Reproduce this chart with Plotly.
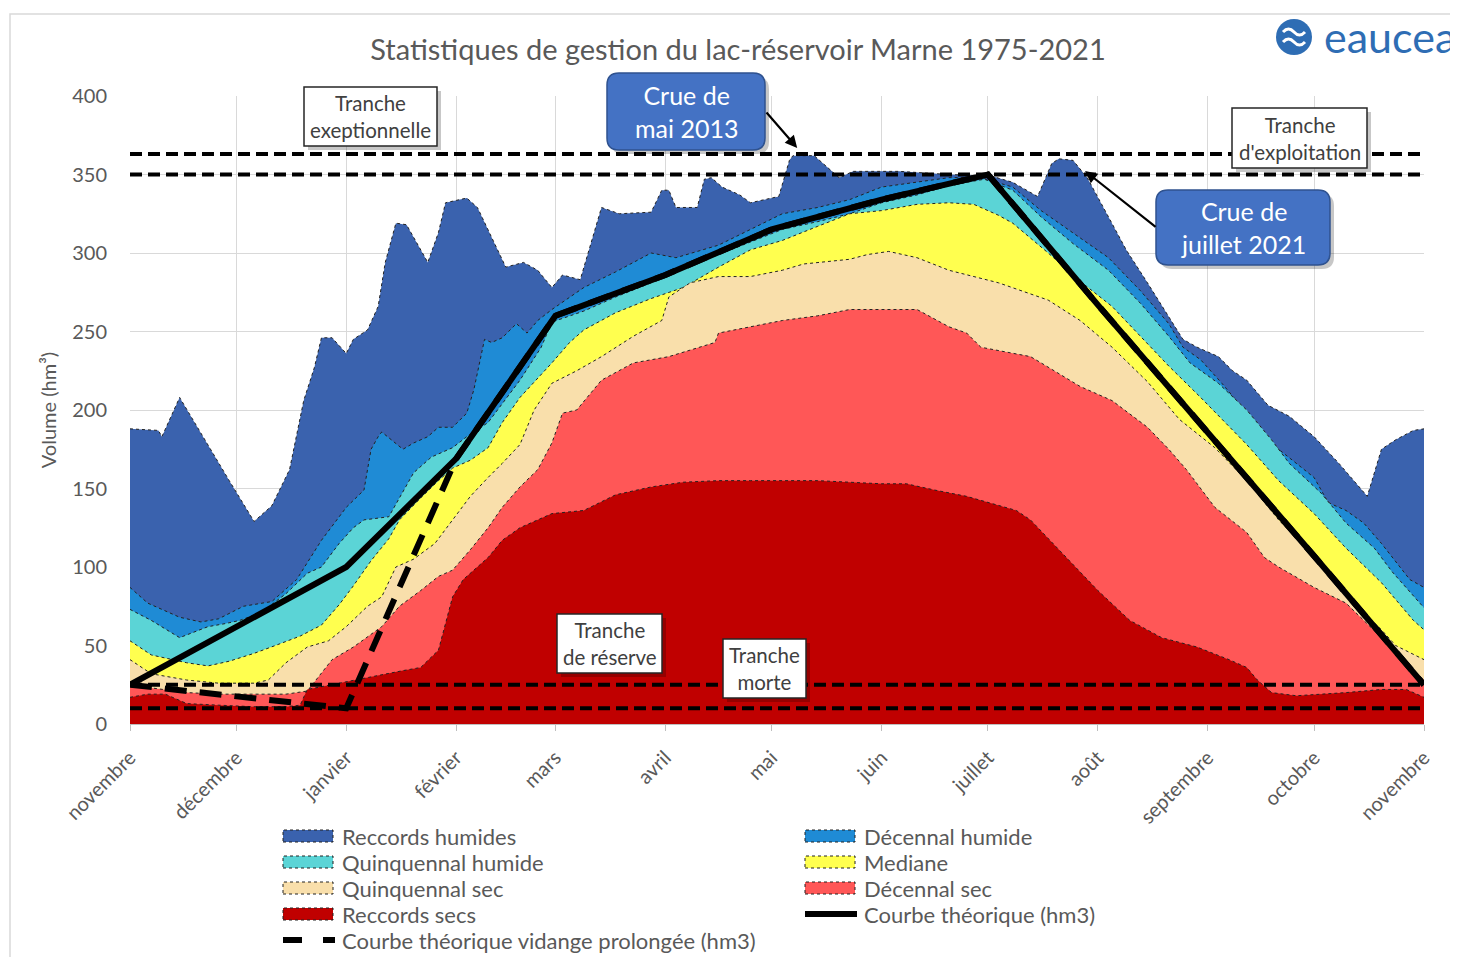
import plotly.graph_objects as go

# jours depuis le 1er novembre / volume (hm3)
rh_days = [0, 8, 9, 14, 28, 35, 40, 45, 49, 52, 54, 57, 61, 63, 67, 70, 72, 75, 78, 84, 87, 89, 95, 98,
           106, 111, 115, 119, 122, 127, 133, 138, 147, 150, 152, 154, 160, 162, 164, 167, 172, 175,
           183, 186, 187, 193, 198, 200, 204, 217, 231, 243, 249, 256, 260, 262, 266, 270, 276, 281,
           287, 293, 297, 301, 307, 311, 315, 321, 327, 334, 341, 349, 353, 357, 362, 365]
rh_vals = [188, 187, 183, 208, 155, 129, 139, 162, 206, 227, 246, 246, 236, 245, 251, 266, 294, 319,
           318, 294, 313, 332, 335, 329, 291, 294, 289, 278, 286, 283, 329, 325, 326, 340, 340, 329,
           329, 347, 348, 342, 337, 332, 336, 359, 362, 362, 352, 348, 352, 352, 350, 349, 345, 336,
           357, 360, 359, 348, 323, 302, 281, 259, 245, 240, 234, 225, 219, 203, 196, 183, 166, 145,
           175, 181, 187, 188]

dh_days = [0, 5, 14, 20, 25, 32, 40, 47, 54, 61, 66, 68, 70, 71, 77, 80, 84, 87, 91, 95, 97, 100, 102,
           105, 109, 112, 115, 119, 128, 137, 147, 154, 166, 175, 184, 194, 203, 212, 222, 231, 240,
           249, 257, 266, 276, 285, 293, 297, 302, 308, 318, 324, 334, 338, 343, 348, 353, 361, 365]
dh_vals = [87, 77, 68, 65, 67, 75, 78, 92, 117, 138, 149, 175, 183, 186, 175, 179, 183, 189, 189, 198,
           213, 245, 243, 246, 255, 249, 257, 264, 278, 288, 300, 297, 305, 315, 325, 329, 334, 342,
           345, 348, 348, 342, 327, 313, 297, 276, 255, 240, 232, 217, 190, 175, 157, 141, 136, 128,
           115, 92, 87]

qh_days = [0, 6, 14, 22, 27, 31, 37, 44, 50, 54, 59, 63, 66, 73, 80, 85, 91, 95, 101, 105, 110, 116,
           119, 128, 137, 147, 156, 166, 175, 184, 194, 203, 212, 222, 231, 241, 249, 257, 266, 276,
           285, 293, 299, 307, 315, 322, 327, 336, 343, 351, 356, 361, 365]
qh_vals = [73, 66, 55, 62, 64, 66, 71, 83, 96, 100, 115, 125, 130, 132, 160, 170, 176, 183, 192, 204,
           219, 240, 256, 263, 272, 281, 290, 299, 307, 315, 320, 325, 332, 337, 343, 347, 340, 323,
           306, 289, 268, 247, 230, 217, 200, 181, 166, 147, 128, 112, 97, 84, 74]

med_days = [0, 6, 16, 22, 28, 35, 41, 48, 54, 59, 63, 68, 73, 76, 82, 87, 91, 96, 101, 105, 110, 119,
            124, 128, 137, 147, 156, 166, 175, 184, 194, 203, 212, 222, 231, 238, 245, 249, 259, 268,
            277, 285, 293, 302, 315, 324, 334, 343, 353, 362, 365]
med_vals = [53, 44, 39, 37, 40, 45, 50, 56, 63, 76, 88, 104, 118, 130, 144, 155, 163, 168, 176, 192,
            208, 230, 243, 251, 262, 271, 278, 291, 302, 308, 317, 325, 327, 331, 332, 331, 324, 319,
            300, 282, 266, 247, 228, 208, 178, 155, 134, 112, 90, 66, 60]

qs_days = [0, 6, 16, 25, 35, 39, 44, 50, 56, 61, 67, 71, 75, 80, 86, 91, 96, 101, 105, 110, 114, 119,
           126, 133, 142, 150, 152, 158, 166, 175, 184, 190, 203, 208, 214, 222, 231, 245, 249, 259,
           268, 277, 287, 296, 306, 315, 324, 334, 343, 353, 357, 365]
qs_vals = [41, 32, 28, 26, 26, 28, 39, 49, 53, 62, 75, 81, 100, 105, 115, 130, 145, 157, 166, 178, 200,
           217, 225, 234, 247, 257, 272, 281, 285, 285, 289, 293, 296, 299, 301, 297, 289, 281, 278,
           270, 257, 240, 218, 194, 176, 155, 130, 107, 82, 60, 50, 41]

ds_days = [0, 6, 16, 25, 35, 44, 50, 54, 57, 63, 71, 76, 82, 87, 91, 96, 101, 105, 110, 115, 119, 122,
           126, 133, 142, 152, 161, 165, 166, 175, 184, 194, 203, 212, 222, 231, 236, 240, 245, 254,
           257, 268, 277, 287, 293, 298, 306, 315, 320, 324, 334, 343, 353, 360, 365]
ds_vals = [24, 23, 20, 19, 19, 19, 21, 32, 41, 49, 62, 75, 85, 94, 98, 111, 125, 138, 151, 162, 179,
           198, 200, 219, 230, 234, 240, 243, 249, 253, 257, 260, 264, 264, 264, 253, 249, 240, 238,
           234, 230, 215, 206, 189, 175, 162, 138, 122, 106, 100, 87, 77, 55, 39, 28]

rs_days = [0, 5, 10, 16, 25, 35, 44, 48, 50, 63, 77, 82, 87, 89, 91, 94, 101, 105, 110, 119, 128, 137,
           147, 156, 166, 175, 184, 194, 203, 212, 219, 227, 236, 245, 250, 254, 263, 273, 282, 291,
           301, 310, 315, 318, 322, 329, 343, 353, 360, 365]
rs_vals = [17, 19, 19, 13, 12, 11, 11, 12, 22, 28, 34, 36, 47, 64, 81, 92, 106, 117, 125, 134, 136, 146,
           151, 154, 155, 155, 155, 155, 154, 153, 153, 149, 145, 139, 136, 130, 109, 85, 66, 55, 49,
           41, 36, 28, 20, 18, 20, 22, 22, 17]

theo_days = [0, 30, 61, 92, 120, 151, 181, 212, 242, 273, 304, 334, 365]
theo_vals = [25, 62, 100, 169, 260, 286, 315, 334, 350, 267, 186, 107, 25]

prol_days = [0, 61, 92, 120, 151, 181, 212, 242, 273, 304, 334, 365]
prol_vals = [25, 10, 169, 260, 286, 315, 334, 350, 267, 186, 107, 25]

tranche_levels = [363, 350, 25, 10]

month_days = [0, 30, 61, 92, 120, 151, 181, 212, 242, 273, 304, 334, 365]
month_labels = ['novembre', 'décembre', 'janvier', 'février', 'mars', 'avril', 'mai', 'juin',
                'juillet', 'août', 'septembre', 'octobre', 'novembre']

FONT = 'Lato'
GREY = '#595959'

areas = [
    ('Reccords humides', rh_days, rh_vals, '#3A62AE'),
    ('Décennal humide', dh_days, dh_vals, '#1F8BD5'),
    ('Quinquennal humide', qh_days, qh_vals, '#5BD4D6'),
    ('Mediane', med_days, med_vals, '#FFFF4F'),
    ('Quinquennal sec', qs_days, qs_vals, '#F9DFAB'),
    ('Décennal sec', ds_days, ds_vals, '#FF5757'),
    ('Reccords secs', rs_days, rs_vals, '#C00000'),
]

# page pixels -> paper coords (plot area 130..1424 x 96..724 on the page)
def PX(px):
    return (px - 130) / 1294

def PY(py):
    return (724 - py) / 628

fig = go.Figure()
for name, d, v, col in areas:
    fig.add_trace(go.Scatter(
        x=d, y=v, name=name, mode='lines', fill='tozeroy', fillcolor=col,
        line=dict(color='#222222', width=1, dash='dot'), showlegend=False, hoverinfo='skip'))

fig.add_trace(go.Scatter(
    x=prol_days, y=prol_vals, name='Courbe théorique vidange prolongée (hm3)', mode='lines',
    line=dict(color='black', width=6, dash='22px,13px'), showlegend=False))
fig.add_trace(go.Scatter(
    x=theo_days, y=theo_vals, name='Courbe théorique (hm3)', mode='lines',
    line=dict(color='black', width=6), showlegend=False))

for lvl in tranche_levels:
    fig.add_shape(type='line', xref='x', yref='y', x0=0, x1=365, y0=lvl, y1=lvl,
                  line=dict(color='black', width=4, dash='12px,6px'), layer='above')


def rounded(x0, y0, x1, y1, r):
    return (f'M {PX(x0 + r)},{PY(y0)} L {PX(x1 - r)},{PY(y0)} Q {PX(x1)},{PY(y0)} {PX(x1)},{PY(y0 + r)} '
            f'L {PX(x1)},{PY(y1 - r)} Q {PX(x1)},{PY(y1)} {PX(x1 - r)},{PY(y1)} '
            f'L {PX(x0 + r)},{PY(y1)} Q {PX(x0)},{PY(y1)} {PX(x0)},{PY(y1 - r)} '
            f'L {PX(x0)},{PY(y0 + r)} Q {PX(x0)},{PY(y0)} {PX(x0 + r)},{PY(y0)} Z')


def box(text, x0, y0, x1, y1, blue=False):
    r = 12 if blue else 0
    fig.add_shape(type='path', xref='paper', yref='paper', path=rounded(x0 + 4, y0 + 4, x1 + 4, y1 + 4, r),
                  fillcolor='rgba(0,0,0,0.22)', line=dict(width=0), layer='above')
    fig.add_shape(type='path', xref='paper', yref='paper', path=rounded(x0, y0, x1, y1, r),
                  fillcolor='#4472C4' if blue else 'white',
                  line=dict(color='#2F528F' if blue else '#262626', width=1.5), layer='above')
    fig.add_annotation(x=PX((x0 + x1) / 2), y=PY((y0 + y1) / 2), xref='paper', yref='paper',
                       text=text, showarrow=False, xanchor='center', yanchor='middle',
                       font=dict(family=FONT, size=25 if blue else 20.5,
                                 color='white' if blue else '#404040'))


box('Tranche<br>exeptionnelle', 304, 87, 437, 146)
box("Tranche<br>d'exploitation", 1232, 108, 1367, 168)
box('Tranche<br>de réserve', 557, 614, 662, 673)
box('Tranche<br>morte', 723, 639, 806, 698)
box('Crue de<br>mai 2013', 607, 73, 765, 150, blue=True)
box('Crue de<br>juillet 2021', 1156, 190, 1330, 265, blue=True)

for tx, ty, ax, ay in [(188.2, 366.9, -32, -37), (269.4, 352.2, 72, 57)]:
    fig.add_annotation(x=tx, y=ty, xref='x', yref='y', text='', showarrow=True, ax=ax, ay=ay,
                       arrowhead=2, arrowsize=1.1, arrowwidth=2.2, arrowcolor='black', standoff=0)

# légende dessinée à la main (deux colonnes)
legend_items = [(a[0], a[3], 'fill') for a in areas]
legend_items += [('Courbe théorique (hm3)', 'black', 'line'),
                 ('Courbe théorique vidange prolongée (hm3)', 'black', 'dash')]
for k, (name, col, kind) in enumerate(legend_items):
    sx = 283 if k % 2 == 0 else 805
    cy = 836 + 26 * (k // 2)
    if kind == 'fill':
        fig.add_shape(type='rect', xref='paper', yref='paper', x0=PX(sx), x1=PX(sx + 50),
                      y0=PY(cy + 6), y1=PY(cy - 6), fillcolor=col,
                      line=dict(color='#222222', width=1, dash='dot'))
    elif kind == 'line':
        fig.add_shape(type='line', xref='paper', yref='paper', x0=PX(sx), x1=PX(sx + 52),
                      y0=PY(cy), y1=PY(cy), line=dict(color='black', width=6))
    else:
        for a, b in [(sx, sx + 19), (sx + 40, sx + 52)]:
            fig.add_shape(type='line', xref='paper', yref='paper', x0=PX(a), x1=PX(b),
                          y0=PY(cy), y1=PY(cy), line=dict(color='black', width=6))
    fig.add_annotation(x=PX(sx + 57), y=PY(cy), xref='paper', yref='paper', text=name,
                       showarrow=False, xanchor='left', yanchor='middle',
                       font=dict(family=FONT, size=22, color=GREY))

# cadre du graphique
fig.add_shape(type='rect', xref='paper', yref='paper', x0=PX(10), x1=PX(1480), y0=PY(990), y1=PY(14),
              line=dict(color='#D9D9D9', width=1.5), layer='below')

# logo
fig.add_shape(type='circle', xref='paper', yref='paper', x0=PX(1276), x1=PX(1312), y0=PY(55), y1=PY(19),
              fillcolor='#2E6DB4', line=dict(width=0))
for wy in (32, 42):
    fig.add_shape(type='path', xref='paper', yref='paper',
                  path=(f'M {PX(1283)},{PY(wy)} Q {PX(1288.5)},{PY(wy - 6)} {PX(1294)},{PY(wy)} '
                        f'Q {PX(1299.5)},{PY(wy + 6)} {PX(1305)},{PY(wy)}'),
                  line=dict(color='white', width=3))
fig.add_annotation(x=PX(1322), y=PY(36), xref='paper', yref='paper', text='eaucea', showarrow=False,
                   xanchor='left', yanchor='middle', font=dict(family=FONT, size=43, color='#2E6DB4'))

# la page ajoute une marge de 8 px : figure 1450x949, décalée de 8 px
fig.update_layout(
    width=1450, height=949,
    margin=dict(l=122, r=34, t=88, b=233, autoexpand=False),
    paper_bgcolor='white', plot_bgcolor='white',
    font=dict(family=FONT, size=20, color=GREY),
    title=dict(text='Statistiques de gestion du lac-réservoir Marne 1975-2021',
               x=730 / 1450, xanchor='center', y=1 - 42 / 949, yanchor='middle',
               font=dict(family=FONT, size=29, color=GREY)),
    showlegend=False,
    xaxis=dict(range=[0, 365], tickmode='array', tickvals=month_days, ticktext=month_labels,
               tickangle=-45, showgrid=True, gridcolor='#D9D9D9', gridwidth=1.3,
               showline=True, linecolor='#BFBFBF', linewidth=1.3, ticks='outside',
               ticklen=6, tickcolor='#BFBFBF', zeroline=False, ticklabelstandoff=7,
               tickfont=dict(family=FONT, size=20, color=GREY)),
    yaxis=dict(range=[0, 400], dtick=50, showgrid=True, gridcolor='#D9D9D9', gridwidth=1.3,
               zeroline=False, showline=False, ticks='', ticklabelstandoff=22,
               title=dict(text='Volume (hm³)', standoff=10,
                          font=dict(family=FONT, size=20, color=GREY)),
               tickfont=dict(family=FONT, size=20, color=GREY)),
)

fig.write_html('out.html')
